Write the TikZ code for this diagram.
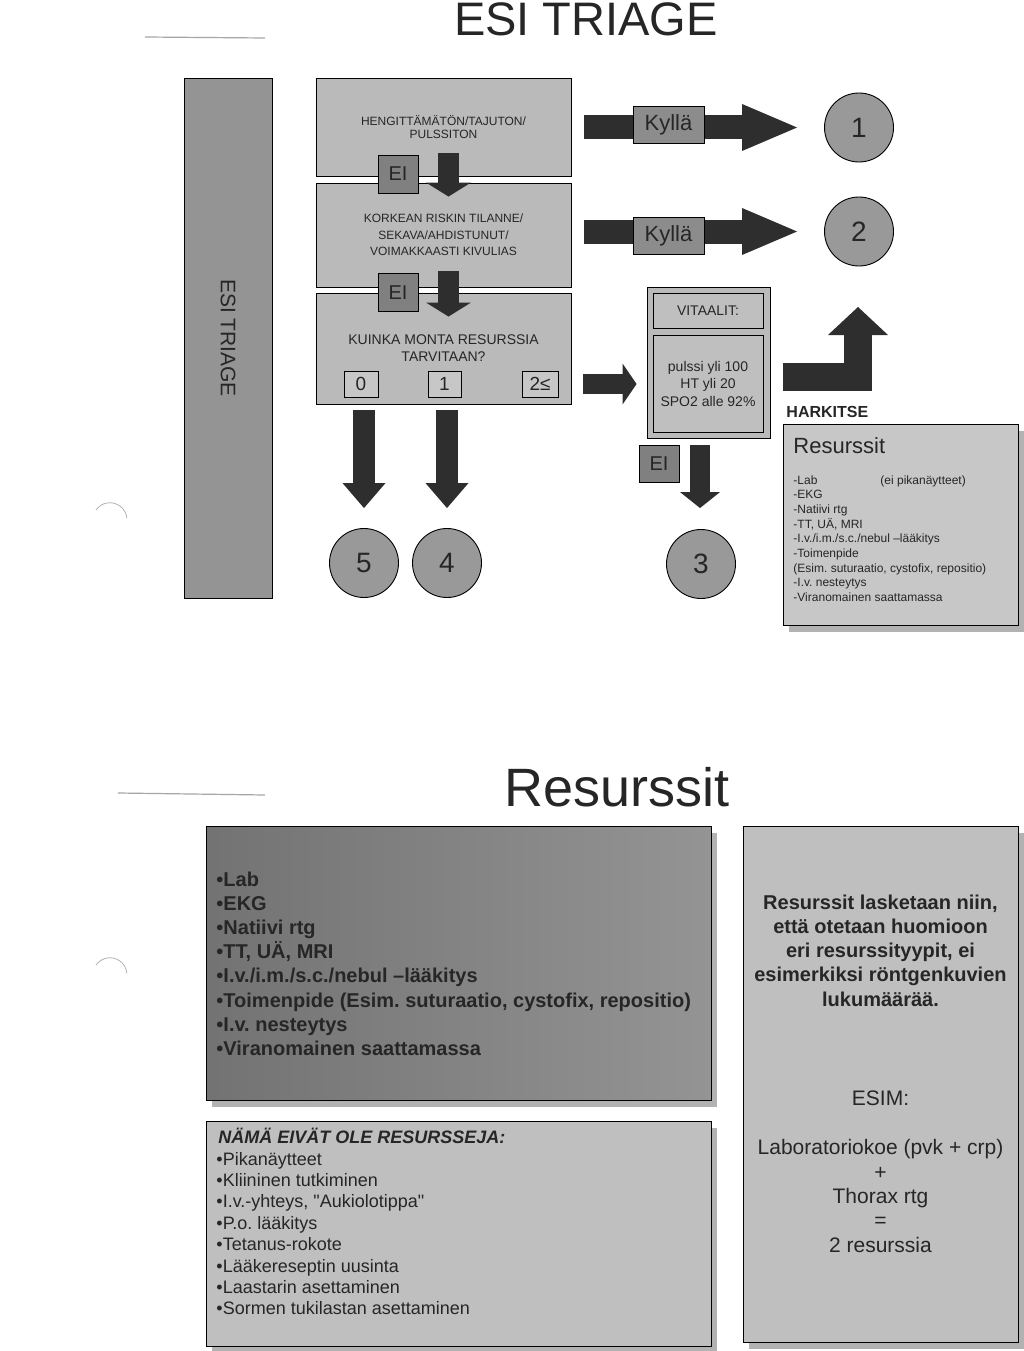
\documentclass[tikz,border=0pt]{standalone}
\usepackage{fontspec}
\setmainfont{Liberation Sans}
\usetikzlibrary{positioning,arrows.meta,calc,shadows}
\newcommand{\fs}[2]{\fontsize{#1}{#2}\selectfont}
\frenchspacing

\begin{document}
\begin{tikzpicture}[x=1pt, y=-1pt, line width=0.9pt,
  qbox/.style={draw, fill=black!27, minimum width=255pt, inner sep=2pt,
               align=center, text=black!85},
  sidebar/.style={draw, fill=black!42, minimum width=520pt, minimum height=88pt,
                  rotate=-90, font=\fs{21}{24}, text=black!85},
  eibox/.style={draw, fill=black!50, minimum width=40pt, minimum height=38pt,
                inner sep=0pt, font=\fs{20}{24}, text=black!85},
  kylbox/.style={draw, fill=black!45, minimum width=71pt, minimum height=37pt,
                 inner sep=0pt, font=\fs{22}{26}, text=black!85},
  ansbox/.style={draw, fill=black!22, minimum height=26pt, inner sep=0pt,
                 font=\fs{19}{22}, text=black!85},
  level/.style={circle, draw, fill=black!40, minimum size=69pt, inner sep=0pt,
                font=\fs{28}{30}, text=black!85},
  vitbox/.style={draw, fill=black!27, inner sep=0pt, text=black!85},
  infobox/.style={draw, inner sep=0pt,
                  drop shadow={shadow xshift=6pt, shadow yshift=-7pt, fill=black!30, opacity=1}},
  yesarr/.style={draw=black!82, line width=24pt, -{Triangle[width=47pt, length=55pt, line width=0pt]}},
  stepdn/.style={draw=black!82, line width=21pt, -{Triangle[width=45pt, length=14pt, line width=0pt]}},
  outdn/.style={draw=black!82, line width=22pt, -{Triangle[width=43pt, length=25pt, line width=0pt]}},
  vitdn/.style={draw=black!82, line width=20pt, -{Triangle[width=40pt, length=16pt, line width=0pt]}},
  sidearr/.style={draw=black!82, line width=20pt, -{Triangle[width=41pt, length=14pt, line width=0pt]}},
  bendarr/.style={draw=black!82, line width=28pt, line join=miter, -{Triangle[width=60pt, length=28pt, line width=0pt]}},
  txt/.style={anchor=base west, inner sep=0pt, text=black!85},
]
\useasboundingbox (0,0) rectangle (1024,1351);
\fill[white] (0,0) rectangle (1024,1351);

% page marks of the scan
\draw[black!35, line width=1.2pt] (145,37) -- (265,38);
\draw[black!35, line width=1.2pt] (118,793) -- (265,795);
\draw[black!30, line width=0.8pt] (96,510) arc[start angle=215, end angle=355, radius=17];
\draw[black!30, line width=0.8pt] (96,965) arc[start angle=215, end angle=355, radius=17];

% ---------------- ESI TRIAGE ----------------
\node[font=\fs{47}{52}, anchor=base, inner sep=0pt, text=black!85] (title1) at (586,36) {ESI TRIAGE};
\node[sidebar] (esibar) at (228,338) {ESI TRIAGE};

% question boxes
\node[qbox, minimum height=98pt, font=\fs{12}{13.5}] (q1) at (443.5,127)
  {HENGITTÄMÄTÖN/TAJUTON/\\PULSSITON};
\node[qbox, minimum height=104pt, font=\fs{12}{16.5}] (q2) at (443.5,235)
  {KORKEAN RISKIN TILANNE/\\SEKAVA/AHDISTUNUT/\\VOIMAKKAASTI KIVULIAS};
\node[qbox, minimum height=111pt, font=\fs{14}{17}] (q3) at (443.5,348.5)
  {KUINKA MONTA RESURSSIA\\TARVITAAN?};
\node[ansbox, minimum width=34pt] (a0) at (361,384) {0};
\node[ansbox, minimum width=33pt] (a1) at (444.5,384) {1};
\node[ansbox, minimum width=36pt] (a2) at (540,384) {2≤};

% levels
\node[level] (n1) at (859,127.5) {1};
\node[level] (n2) at (859,231.5) {2};
\node[level] (c3) at (701,564) {3};
\node[level] (c4) at (447,563) {4};
\node[level] (c5) at (364,563) {5};

% vitals
\node[vitbox, minimum width=123pt, minimum height=151pt] (vit) at (708.5,362.5) {};
\node[vitbox, fill=black!25, minimum width=110pt, minimum height=35pt, font=\fs{14}{17}] (vithead) at (708,310.5) {VITAALIT:};
\node[vitbox, fill=black!25, minimum width=110pt, minimum height=97pt, align=center, font=\fs{14}{17.5}] (vitvals) at (708,383.5)
  {pulssi yli 100\\HT yli 20\\SPO2 alle 92\%};

% resources to consider
\node[txt, font=\bfseries\fs{16}{18}] (hark) at (786,417) {HARKITSE};
\node[infobox, fill=black!22, minimum width=235pt, minimum height=201pt] (res) at (900.5,524.5) {};
\node[txt, font=\fs{22}{24}] (restitle) at (793,453) {Resurssit};
\foreach \t [count=\i from 0] in {{-Lab}, {-EKG}, {-Natiivi rtg}, {-TT, UÄ, MRI},
    {-I.v./i.m./s.c./nebul –lääkitys}, {-Toimenpide}, {(Esim. suturaatio, cystofix, repositio)},
    {-I.v. nesteytys}, {-Viranomainen saattamassa}}{
  \node[txt, font=\fs{12}{14}] (resitem\i) at (793,{484+14.7*\i}) {\t};
}
\node[txt, font=\fs{12}{14}] (resnote) at (880,484) {(ei pikanäytteet)};

% block arrows
\draw[yesarr] ($(q1.east |- n1)+(13,0)$) -- ($(n1.west)+(-27,0)$);
\draw[yesarr] ($(q2.east |- n2)+(13,0)$) -- ($(n2.west)+(-27,0)$);
\draw[stepdn] ($(q1.south)+(5,-23)$) -- ($(q2.north)+(5,14)$);
\draw[stepdn] ($(q2.south)+(5,-16)$) -- ($(q3.north)+(5,24)$);
\draw[outdn] ($(q3.south -| c5.north)+(0,6)$) -- ($(c5.north)+(0,-20)$);
\draw[outdn] ($(q3.south -| c4.north)+(0,6)$) -- ($(c4.north)+(0,-20)$);
\draw[sidearr] ($(q3.east |- a2)+(12,0)$) -- ($(vit.west |- a2)+(-10,0)$);
\draw[vitdn] ($(vit.south -| c3.north)+(-1,7)$) -- ($(c3.north)+(-1,-21)$);
\coordinate (harktip) at (858,307);
\draw[bendarr] ($(vit.east)+(13,14)$) -| (harktip);

% answer labels
\node[eibox] (ei1) at (398,174) {EI};
\node[eibox] (ei2) at (398,292.5) {EI};
\node[eibox, minimum height=37pt] (ei3) at (659,463.5) {EI};
\node[kylbox] (k1) at (668.5,124.5) {Kyllä};
\node[kylbox] (k2) at (668.5,235.5) {Kyllä};

% ---------------- Resurssit ----------------
\node[font=\fs{54}{58}, anchor=base, inner sep=0pt, text=black!85] (title2) at (617,806) {Resurssit};

\node[infobox, left color=black!55, right color=black!42, minimum width=505pt, minimum height=274pt] (reslist) at (458.5,963) {};
\foreach \t [count=\i from 0] in {{•Lab}, {•EKG}, {•Natiivi rtg}, {•TT, UÄ, MRI},
    {•I.v./i.m./s.c./nebul –lääkitys}, {•Toimenpide (Esim. suturaatio, cystofix, repositio)},
    {•I.v. nesteytys}, {•Viranomainen saattamassa}}{
  \node[txt, font=\bfseries\fs{20}{24}] (bigitem\i) at (216,{886+24.2*\i}) {\t};
}

\node[infobox, fill=black!25, minimum width=505pt, minimum height=225pt] (notres) at (458.5,1233.5) {};
\node[txt, font=\bfseries\itshape\fs{18}{21}] (nothead) at (218,1143) {NÄMÄ EIVÄT OLE RESURSSEJA:};
\foreach \t [count=\i from 0] in {{•Pikanäytteet}, {•Kliininen tutkiminen}, {•I.v.-yhteys, \textquotedbl Aukiolotippa\textquotedbl},
    {•P.o. lääkitys}, {•Tetanus-rokote}, {•Lääkereseptin uusinta}, {•Laastarin asettaminen},
    {•Sormen tukilastan asettaminen}}{
  \node[txt, font=\fs{18}{21}] (notitem\i) at (216,{1165+21.4*\i}) {\t};
}

\node[infobox, fill=black!25, minimum width=275pt, minimum height=516pt] (calcbox) at (880.5,1084) {};
\node[align=center, inner sep=0pt, text=black!85, font=\bfseries\fs{20}{24.2}] (calcrule) at (880.5,950.5)
  {Resurssit lasketaan niin,\\että otetaan huomioon\\eri resurssityypit, ei\\esimerkiksi röntgenkuvien\\lukumäärää.};
\node[inner sep=0pt, text=black!85, font=\fs{21}{24}] (esim) at (880.5,1098) {ESIM:};
\node[align=center, inner sep=0pt, text=black!85, font=\fs{21}{24.4}] (calcsum) at (880.5,1196)
  {Laboratoriokoe (pvk + crp)\\+\\Thorax rtg\\=\\2 resurssia};
\end{tikzpicture}
\end{document}
